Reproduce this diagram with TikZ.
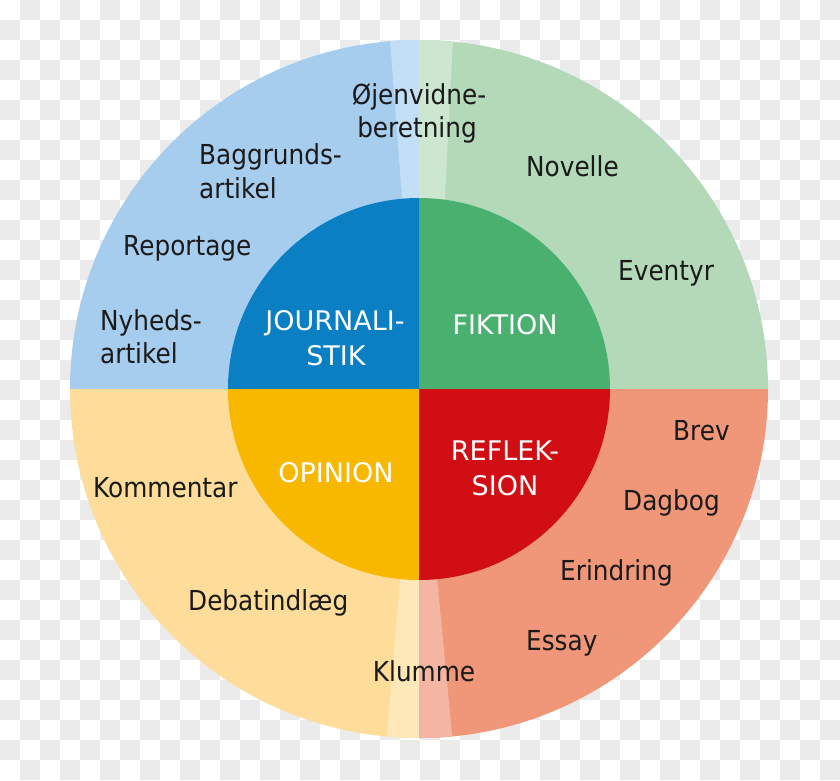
\documentclass[tikz,border=0pt]{standalone}
\usepackage{fontspec}
\setmainfont{DejaVu Sans}
\newfontfamily\outerfont{DejaVu Sans}[FakeStretch=0.9]
\definecolor{chk}{HTML}{EBEBEB}
\definecolor{oblue}{HTML}{A6CDEE}
\definecolor{sblue}{HTML}{C3DFF5}
\definecolor{ogreen}{HTML}{B4D9B9}
\definecolor{sgreen}{HTML}{CDE6CF}
\definecolor{oyellow}{HTML}{FDDD99}
\definecolor{syellow}{HTML}{FEE7B8}
\definecolor{osalmon}{HTML}{F0977A}
\definecolor{ssalmon}{HTML}{F4B5A2}
\definecolor{iblue}{HTML}{0A7FC4}
\definecolor{igreen}{HTML}{4AB06F}
\definecolor{iyellow}{HTML}{F9B800}
\definecolor{ired}{HTML}{D00E14}
\definecolor{txt}{HTML}{1A1A1A}
\tikzset{
  genre/.style={inner sep=0pt, text=txt, font=\outerfont\fontsize{27.5}{33}\selectfont},
  main/.style={inner sep=0pt, text=white, font=\fontsize{27}{32}\selectfont},
}
\begin{document}
\begin{tikzpicture}[x=1pt,y=-1pt]
\useasboundingbox (0,0) rectangle (840,780);
\fill[white] (0,0) rectangle (840,780);
\foreach \i in {0,...,41}{
  \foreach \j in {0,...,38}{
    \pgfmathtruncatemacro\s{\i+\j}
    \ifodd\s \fill[chk] (20*\i,20*\j) rectangle ++(20,20); \fi
  }
}
\coordinate (c) at (419,389);
% outer ring
\begin{scope}
\clip (c) circle[radius=349pt];
\fill[oblue] (0,0) rectangle (419,389);
\fill[ogreen] (419,0) rectangle (840,389);
\fill[oyellow] (0,389) rectangle (419,780);
\fill[osalmon] (419,389) rectangle (840,780);
\fill[sblue] (387,0) -- (419,0) -- (419,389) -- (416.5,389) -- cycle;
\fill[sgreen] (419,0) -- (455,0) -- (435.3,389) -- (419,389) -- cycle;
\fill[syellow] (416,389) -- (419,389) -- (419,780) -- (383.2,780) -- cycle;
\fill[ssalmon] (419,389) -- (456.4,780) -- (419,780) -- cycle;
\end{scope}
% inner circle
\begin{scope}
\clip (c) circle[radius=191pt];
\fill[iblue] (0,0) rectangle (419,389);
\fill[igreen] (419,0) rectangle (840,389);
\fill[iyellow] (0,389) rectangle (419,780);
\fill[ired] (419,389) rectangle (840,780);
\end{scope}
% inner labels
\node[main, anchor=base] (j1) at (335,330) {JOURNALI-};
\node[main, anchor=base] (j2) at (336,365) {STIK};
\node[main, anchor=base] (fik) at (505,334) {FIKTION};
\node[main, anchor=base] (opi) at (336,482) {OPINION};
\node[main, anchor=base] (r1) at (505,460) {REFLEK-};
\node[main, anchor=base] (r2) at (505,495) {SION};
% outer labels
\node[genre, anchor=base] (oe1) at (419,104) {Øjenvidne-};
\node[genre, anchor=base] (oe2) at (417,137) {beretning};
\node[genre, anchor=base west] (ba1) at (199,164) {Baggrunds-};
\node[genre, anchor=base west] (ba2) at (199,198) {artikel};
\node[genre, anchor=base west] (rep) at (123,255) {Reportage};
\node[genre, anchor=base west] (ny1) at (100,330) {Nyheds-};
\node[genre, anchor=base west] (ny2) at (100,363) {artikel};
\node[genre, anchor=base west] (nov) at (526,176) {Novelle};
\node[genre, anchor=base west] (eve) at (618,280) {Eventyr};
\node[genre, anchor=base west] (bre) at (673,440) {Brev};
\node[genre, anchor=base west] (dag) at (623,510) {Dagbog};
\node[genre, anchor=base west] (eri) at (560,580) {Erindring};
\node[genre, anchor=base west] (ess) at (526,650) {Essay};
\node[genre, anchor=base west] (kom) at (93,497) {Kommentar};
\node[genre, anchor=base west] (deb) at (188,610) {Debatindlæg};
\node[genre, anchor=base] (klu) at (424,681) {Klumme};
\end{tikzpicture}
\end{document}
